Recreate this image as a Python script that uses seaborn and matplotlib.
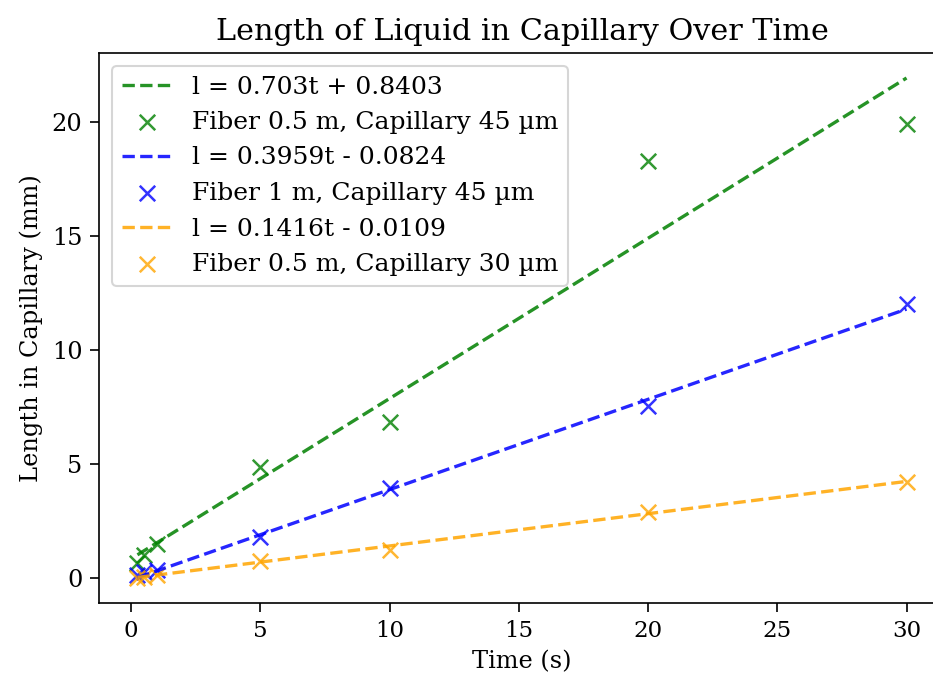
import numpy as np
import pandas as pd
import matplotlib
matplotlib.use("Agg")
import matplotlib.pyplot as plt
import seaborn as sns

# Data
time_s = [0.25, 0.5, 1, 5, 10, 20, 30]
series_labels = ["Fiber 0.5 m, Capillary 45 µm",
                 "Fiber 1 m, Capillary 45 µm",
                 "Fiber 0.5 m, Capillary 30 µm"]
len_f05_c45 = [0.65, 1.0, 1.5, 4.85, 6.85, 18.3, 19.9]
len_f1_c45 = [0.15, 0.25, 0.35, 1.8, 3.95, 7.55, 12.0]
len_f05_c30 = [0.0, 0.05, 0.15, 0.75, 1.25, 2.9, 4.2]
fit_slopes = [0.703, 0.3959, 0.1416]
fit_intercepts = [0.8403, -0.0824, -0.0109]
fit_labels = ["l = 0.703t + 0.8403", "l = 0.3959t - 0.0824", "l = 0.1416t - 0.0109"]
colors = ["green", "blue", "orange"]

plt.rcParams['font.family'] = ['DejaVu Serif']

fig = plt.figure(figsize=(933/150, 677/150), dpi=150)
ax = fig.add_axes([99/933, 74/677, 846/933, 550/677])

all_series = [len_f05_c45, len_f1_c45, len_f05_c30]
t = np.array(time_s)
for vals, slope, icpt, flab, slab, c in zip(all_series, fit_slopes, fit_intercepts,
                                              fit_labels, series_labels, colors):
    fit_df = pd.DataFrame({"t": t, "l": slope * t + icpt})
    sns.lineplot(data=fit_df, x="t", y="l", ax=ax, color=c, linestyle="--",
                 linewidth=1.6, alpha=0.85, label=flab)
    df = pd.DataFrame({"t": t, "l": vals})
    sns.scatterplot(data=df, x="t", y="l", ax=ax, color=c, marker="x", s=55,
                    linewidth=1.2, alpha=0.8, label=slab)

ax.set_title("Length of Liquid in Capillary Over Time", fontsize=14.5)
ax.set_xlabel("Time (s)", fontsize=11.5)
ax.set_ylabel("Length in Capillary (mm)", fontsize=11.5)
ax.set_xticks([0, 5, 10, 15, 20, 25, 30])
ax.set_yticks([0, 5, 10, 15, 20])
ax.tick_params(axis="x", labelsize=11, length=4.5)
ax.tick_params(axis="y", labelsize=11.5, length=4.5)
ax.legend(loc="upper left", fontsize=12)

fig.savefig("out.png", dpi=150)
